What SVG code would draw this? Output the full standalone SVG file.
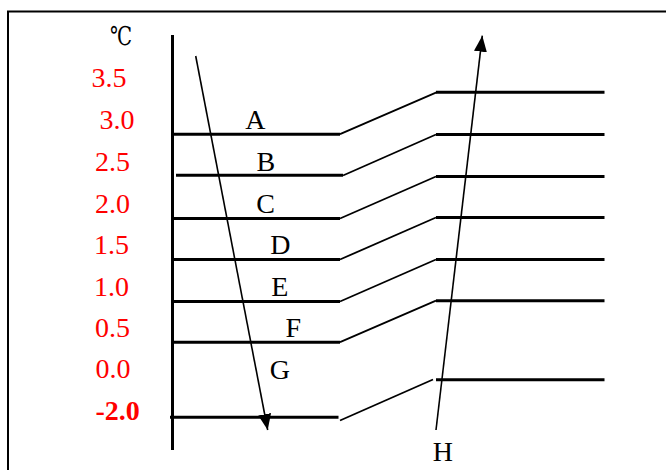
<svg xmlns="http://www.w3.org/2000/svg" width="666" height="470" viewBox="0 0 666 470">
<style>
.frame{fill:none;stroke:#000;stroke-width:2}
.axis{stroke:#000;stroke-width:3;fill:none}
.lvl{stroke:#000;stroke-width:3;fill:none}
.sl{stroke:#000;stroke-width:1.8;fill:none}
.arr{stroke:#000;stroke-width:1.6;fill:none}
.num{font-family:"Liberation Serif","Times New Roman",serif;font-size:28px;fill:#FF0000}
.numb{font-family:"Liberation Serif","Times New Roman",serif;font-size:28px;fill:#FF0000;font-weight:bold}
.lbl{font-family:"Liberation Serif","Times New Roman",serif;font-size:28px;fill:#000}
.unit{font-family:"Liberation Serif","DejaVu Serif","Noto Sans CJK SC",serif;font-size:26px;fill:#000}
</style>
<defs>
<marker id="ah" viewBox="0 0 16 13" refX="16" refY="6.5" markerWidth="16" markerHeight="13" markerUnits="userSpaceOnUse" orient="auto">
<path d="M0,0 L16,6.5 L0,13 Z" fill="#000"/>
</marker>
</defs>
<path class="frame" d="M8,472 V11.5 H668"/>
<g id="axis">
<line class="axis" x1="172.5" y1="35" x2="172.5" y2="450"/>
<text class="unit" x="110" y="45" textLength="22" lengthAdjust="spacingAndGlyphs">℃</text>
</g>
<g id="scale">
<text class="num" x="91.5" y="87">3.5</text>
<text class="num" x="99.5" y="129.3">3.0</text>
<text class="num" x="95" y="171">2.5</text>
<text class="num" x="95" y="212.7">2.0</text>
<text class="num" x="94" y="254">1.5</text>
<text class="num" x="94" y="295.7">1.0</text>
<text class="num" x="95" y="336.7">0.5</text>
<text class="num" x="95.5" y="377.7">0.0</text>
<text class="numb" x="95.5" y="420">-2.0</text>
</g>
<g id="level-A"><line class="lvl" x1="172" y1="134.2" x2="340" y2="134.2"/><text class="lbl" x="245.3" y="129.3">A</text></g>
<g id="level-B"><line class="lvl" x1="176" y1="175.2" x2="343" y2="175.2"/><text class="lbl" x="256.5" y="170.7">B</text></g>
<g id="level-C"><line class="lvl" x1="172" y1="218.5" x2="340" y2="218.5"/><text class="lbl" x="256.2" y="212.7">C</text></g>
<g id="level-D"><line class="lvl" x1="172" y1="259.5" x2="340" y2="259.5"/><text class="lbl" x="270.2" y="254.3">D</text></g>
<g id="level-E"><line class="lvl" x1="172" y1="301.5" x2="340" y2="301.5"/><text class="lbl" x="271.3" y="295.7">E</text></g>
<g id="level-F"><line class="lvl" x1="172" y1="342.2" x2="340" y2="342.2"/><text class="lbl" x="285.5" y="336.7">F</text></g>
<g id="level-G"><line class="lvl" x1="170" y1="417.2" x2="338.5" y2="417.2"/><text class="lbl" x="269.8" y="378.7">G</text></g>
<g id="right-levels">
<line class="lvl" x1="436" y1="92.3" x2="604.5" y2="92.3"/>
<line class="lvl" x1="436" y1="134.5" x2="604.5" y2="134.5"/>
<line class="lvl" x1="436" y1="176.5" x2="604.5" y2="176.5"/>
<line class="lvl" x1="436" y1="217.5" x2="604.5" y2="217.5"/>
<line class="lvl" x1="436" y1="259.5" x2="604.5" y2="259.5"/>
<line class="lvl" x1="436" y1="300.7" x2="604.5" y2="300.7"/>
<line class="lvl" x1="436" y1="379.8" x2="604.5" y2="379.8"/>
</g>
<g id="connectors">
<line class="sl" x1="340" y1="134.2" x2="436.5" y2="92.3"/>
<line class="sl" x1="343" y1="175.5" x2="436" y2="134.5"/>
<line class="sl" x1="340" y1="218.5" x2="436" y2="176.5"/>
<line class="sl" x1="340" y1="259.5" x2="436" y2="217.5"/>
<line class="sl" x1="340" y1="301.5" x2="436" y2="259.5"/>
<line class="sl" x1="340" y1="342.2" x2="436" y2="300.7"/>
<line class="sl" x1="340" y1="420.5" x2="433" y2="379.5"/>
<line class="arr" x1="195.7" y1="56" x2="267.7" y2="430" marker-end="url(#ah)"/>
<line class="arr" x1="436" y1="430" x2="482.3" y2="35.7" marker-end="url(#ah)"/>
</g>
<g id="label-H"><text class="lbl" x="432.8" y="461">H</text></g>
</svg>
